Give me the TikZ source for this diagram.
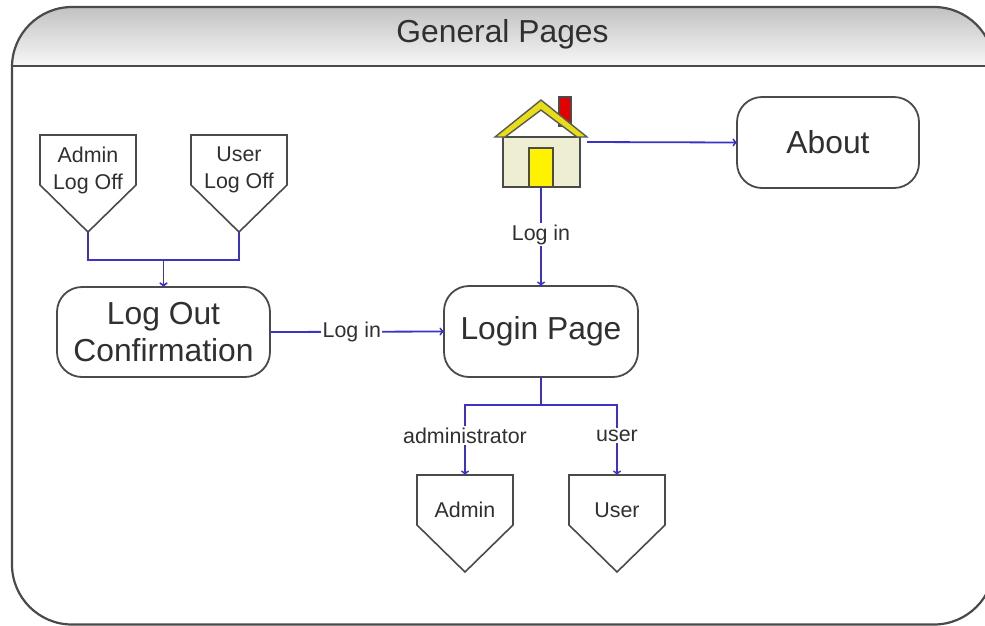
\documentclass[tikz,border=0pt]{standalone}
\usepackage{fontspec}
\setmainfont{Liberation Sans}
\definecolor{linkblue}{HTML}{3C32C4}
\definecolor{boxgray}{HTML}{4A4A4A}
\definecolor{textgray}{HTML}{303030}
\definecolor{wallcolor}{HTML}{EEEED2}
\tikzset{
	page/.style={draw=boxgray, rounded corners=25pt, fill=white, line width=1.8pt, align=center, text=textgray, outer sep=0pt, font=\fontsize{31.8}{37}\selectfont},
	offpage/.style={minimum width=96pt, minimum height=70pt, inner sep=0pt, outer sep=0pt, align=center, text=textgray, font=\fontsize{21.4}{27}\selectfont},
	offline/.style={draw=boxgray, line width=1.6pt, line join=miter},
	link/.style={draw=linkblue, line width=1.8pt},
	linklabel/.style={fill=white, inner sep=1.5pt, text=textgray, font=\fontsize{21.4}{25}\selectfont},
}
% pentagon with its text in the upper part, #1 = name
\newcommand{\offpagenode}[4]{
	\node[offpage] (#1) at (#2, #3) {#4};
	\draw[offline] (#1.north west) -- (#1.north east) -- ++(0, 50) -- ++(-48, 47) coordinate (#1tip) -- ++(-48, -47) -- cycle;
}
\begin{document}
\begin{tikzpicture}[x=1pt, y=-1pt, >=to]
	\useasboundingbox (0, 0) rectangle (985, 625);
	\fill[white] (0, 0) rectangle (985, 625);

	\begin{scope}
		\clip (0, 0) rectangle (985, 625);
		\begin{scope}
			\clip[rounded corners=60pt] (12, 7) rectangle (994, 625);
			\shade[top color=black!24, bottom color=black!3] (12, 7) rectangle (994, 66);
		\end{scope}
		\draw[boxgray, line width=2.2pt, rounded corners=60pt] (12, 7) rectangle (994, 624.5);
		\draw[boxgray, line width=2.4pt] (12, 66) -- (985, 66);
	\end{scope}
	\node[text=textgray, font=\fontsize{31.8}{37}\selectfont] (title) at (502.5, 34) {General Pages};

	% house
	\node[minimum width=92pt, minimum height=90pt, inner sep=0pt, outer sep=0pt] (home) at (541, 142) {};
	\filldraw[fill=red!90!black, draw=black!70, line width=1.2pt] (559, 97) rectangle (571, 126);
	\filldraw[fill=wallcolor, draw=boxgray, line width=1.4pt] (503, 137) rectangle (580, 187);
	\filldraw[fill=yellow, draw=black!70, line width=1.4pt] (529, 148) rectangle (553, 187);
	\filldraw[fill=yellow!90!black, draw=black!65, line width=1.4pt] (495, 137) -- (541, 100) -- (587, 137) -- (577, 137) -- (541, 110) -- (505, 137) -- cycle;

	\node[page, minimum width=182pt, minimum height=91pt] (about) at (828, 142.5) {About};
	\node[page, minimum width=213pt, minimum height=90pt] (logout) at (163.5, 332) {Log Out\\Confirmation};
	\node[page, minimum width=194pt, minimum height=91pt] (login) at (541, 331.5) {Login Page};

	\offpagenode{adminoff}{88}{170}{Admin\\Log Off}
	\offpagenode{useroff}{239}{170}{User\\Log Off}
	\offpagenode{admin}{465}{510}{Admin}
	\offpagenode{user}{617}{510}{User}

	\draw[link, ->] (home.east) -- (about.west);
	\draw[link, ->] (home.south) -- node[linklabel, pos=0.48] (homelabel) {Log in} (login.north);
	\draw[link, ->] (logout.east) -- node[linklabel, pos=0.47] (logoutlabel) {Log in} (login.west);
	\draw[link, ->] (adminofftip) -- ++(0, 28) -| (logout.north);
	\draw[link, ->] (userofftip) -- ++(0, 28) -| (logout.north);
	\draw[link, ->] (login.south) -- ++(0, 28) -| node[linklabel, pos=0.72] (adminlabel) {administrator} (admin.north);
	\draw[link, ->] (login.south) -- ++(0, 28) -| node[linklabel, pos=0.72] (userlabel) {user} (user.north);
\end{tikzpicture}
\end{document}
